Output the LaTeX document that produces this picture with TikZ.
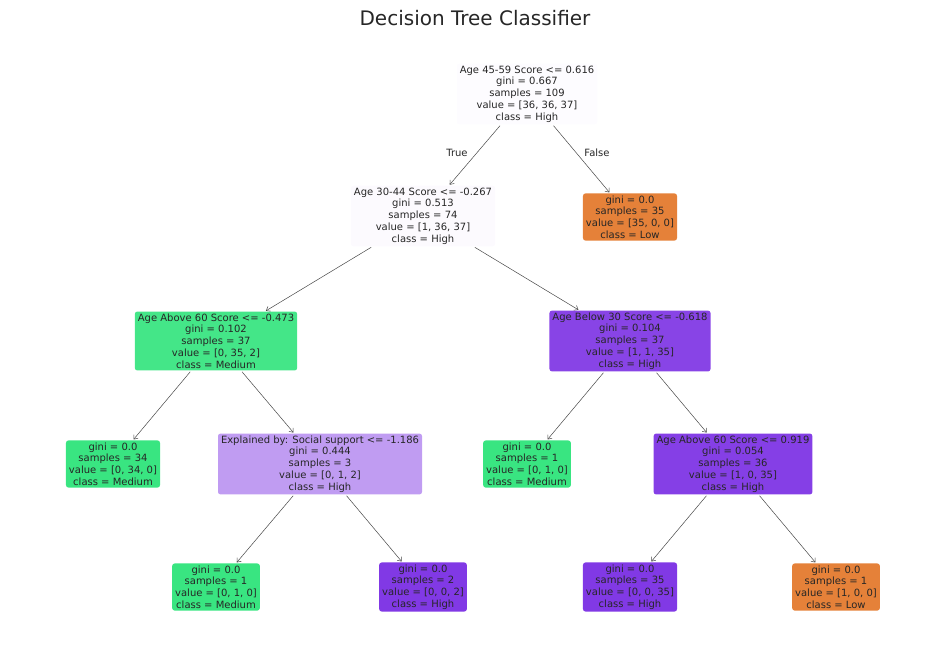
\documentclass[tikz,border=0pt]{standalone}
\usepackage{fontspec}
\setmainfont{DejaVu Sans}
\usepackage{xcolor}
\usetikzlibrary{arrows, arrows.meta}
\definecolor{LowFill}{HTML}{E58139}
\definecolor{MediumFill}{HTML}{39E581}
\definecolor{HighFill}{HTML}{8139E5}
\definecolor{RootFill}{HTML}{FDFCFF}
\definecolor{LeftFill}{HTML}{FCFAFE}
\definecolor{AboveFill}{HTML}{44E688}
\definecolor{BelowFill}{HTML}{8844E6}
\definecolor{SocialFill}{HTML}{C09CF2}
\definecolor{AboveTwoFill}{HTML}{853FE6}
\definecolor{InkGray}{HTML}{262626}

\begin{document}
\begin{tikzpicture}[x=1pt,y=-1pt]
\useasboundingbox (0,0) rectangle (950,659);
\tikzset{VertexStyle/.style={rectangle, rounded corners=2.5pt, align=center, inner xsep=3pt, inner ysep=2pt, text=InkGray, font=\fontsize{10}{11.8}\selectfont}}
\tikzset{EdgeStyle/.style={-{Straight Barb[length=3.5pt,width=5.5pt]}, line width=0.5pt, draw=InkGray!85, shorten >=1pt, shorten <=1.5pt}}
\tikzset{LabelStyle/.style={text=InkGray, font=\fontsize{10}{11.8}\selectfont}}
\node[text=InkGray, font=\fontsize{20}{24}\selectfont] (title) at (475,18) {Decision Tree Classifier};
% level 0
\node[VertexStyle, fill=RootFill] (root) at (527,94) {Age 45-59 Score <= 0.616\\gini = 0.667\\samples = 109\\value = [36, 36, 37]\\class = High};
% level 1
\node[VertexStyle, fill=LeftFill] (age3044) at (423,216) {Age 30-44 Score <= -0.267\\gini = 0.513\\samples = 74\\value = [1, 36, 37]\\class = High};
\node[VertexStyle, fill=LowFill] (lowA) at (630,217) {gini = 0.0\\samples = 35\\value = [35, 0, 0]\\class = Low};
% level 2
\node[VertexStyle, fill=AboveFill] (above60) at (216,341) {Age Above 60 Score <= -0.473\\gini = 0.102\\samples = 37\\value = [0, 35, 2]\\class = Medium};
\node[VertexStyle, fill=BelowFill] (below30) at (630,341) {Age Below 30 Score <= -0.618\\gini = 0.104\\samples = 37\\value = [1, 1, 35]\\class = High};
% level 3
\node[VertexStyle, fill=MediumFill] (medA) at (113,464) {gini = 0.0\\samples = 34\\value = [0, 34, 0]\\class = Medium};
\node[VertexStyle, fill=SocialFill] (social) at (320,464) {Explained by: Social support <= -1.186\\gini = 0.444\\samples = 3\\value = [0, 1, 2]\\class = High};
\node[VertexStyle, fill=MediumFill] (medB) at (527,464) {gini = 0.0\\samples = 1\\value = [0, 1, 0]\\class = Medium};
\node[VertexStyle, fill=AboveTwoFill] (aboveB) at (733,464) {Age Above 60 Score <= 0.919\\gini = 0.054\\samples = 36\\value = [1, 0, 35]\\class = High};
% level 4
\node[VertexStyle, fill=MediumFill] (medC) at (216,587) {gini = 0.0\\samples = 1\\value = [0, 1, 0]\\class = Medium};
\node[VertexStyle, fill=HighFill] (highA) at (423,587) {gini = 0.0\\samples = 2\\value = [0, 0, 2]\\class = High};
\node[VertexStyle, fill=HighFill] (highB) at (630,587) {gini = 0.0\\samples = 35\\value = [0, 0, 35]\\class = High};
\node[VertexStyle, fill=LowFill] (lowB) at (836,587) {gini = 0.0\\samples = 1\\value = [1, 0, 0]\\class = Low};
% edges
\draw[EdgeStyle] (root) -- (age3044);
\draw[EdgeStyle] (root) -- (lowA);
\node[LabelStyle] (true) at (457,153) {True};
\node[LabelStyle] (false) at (597,153) {False};
\draw[EdgeStyle] (age3044) -- (above60);
\draw[EdgeStyle] (age3044) -- (below30);
\draw[EdgeStyle] (above60) -- (medA);
\draw[EdgeStyle] (above60) -- (social);
\draw[EdgeStyle] (below30) -- (medB);
\draw[EdgeStyle] (below30) -- (aboveB);
\draw[EdgeStyle] (social) -- (medC);
\draw[EdgeStyle] (social) -- (highA);
\draw[EdgeStyle] (aboveB) -- (highB);
\draw[EdgeStyle] (aboveB) -- (lowB);
\end{tikzpicture}
\end{document}
